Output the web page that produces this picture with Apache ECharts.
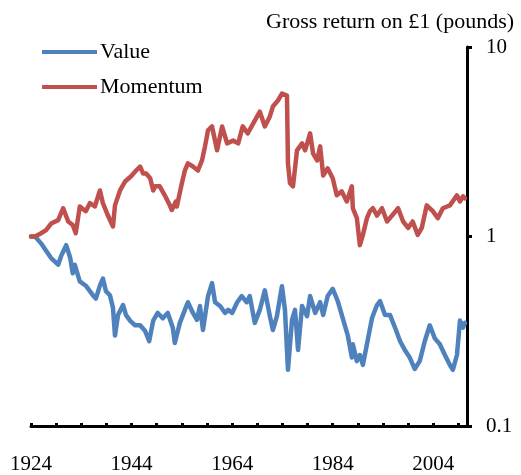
<!DOCTYPE html>
<html>
<head>
<meta charset="utf-8">
<script src="https://cdn.jsdelivr.net/npm/echarts@6/dist/echarts.min.js"></script>
<style>
html,body{margin:0;padding:0;background:#fff;}
#chart{width:521px;height:475px;}
</style>
</head>
<body>
<div id="chart"></div>
<script>
// ---- data ----
const valueYears = [1924,1924.8,1926.0,1927.0,1928.0,1929.4,1930.0,1931.0,1931.8,1932.3,1932.7,1933.7,1934.9,1936.3,1936.9,1937.7,1938.3,1938.9,1939.7,1940.3,1940.7,1941.3,1942.3,1942.9,1943.7,1944.7,1945.7,1946.7,1947.5,1948.3,1949.2,1950.2,1951.2,1952.2,1952.6,1953.2,1953.6,1954.6,1955.2,1956.2,1957.0,1957.6,1958.2,1959.2,1960.0,1960.6,1961.6,1962.6,1963.2,1964.0,1965.0,1965.9,1966.9,1967.5,1968.5,1969.5,1970.5,1971.5,1972.1,1972.9,1973.9,1974.5,1975.1,1975.9,1976.5,1977.1,1977.9,1978.9,1979.5,1980.5,1981.5,1982.1,1983.0,1984.0,1985.0,1986.0,1987.0,1987.8,1988.0,1988.8,1989.4,1990.0,1990.8,1991.8,1992.8,1993.4,1994.4,1995.4,1996.4,1997.4,1998.4,1999.3,2000.3,2001.3,2002.3,2003.3,2004.3,2005.3,2006.3,2007.3,2007.9,2008.7,2009.3,2009.9,2010.3];
const valueReturns = [1.00,1.00,0.92,0.84,0.77,0.71,0.79,0.90,0.77,0.64,0.71,0.58,0.55,0.49,0.47,0.55,0.60,0.515,0.49,0.42,0.30,0.385,0.435,0.385,0.36,0.34,0.34,0.317,0.28,0.36,0.395,0.37,0.395,0.33,0.274,0.317,0.35,0.41,0.45,0.395,0.363,0.43,0.321,0.485,0.568,0.45,0.43,0.395,0.41,0.395,0.45,0.485,0.45,0.485,0.35,0.41,0.52,0.38,0.321,0.38,0.547,0.41,0.198,0.363,0.41,0.252,0.43,0.38,0.485,0.395,0.45,0.385,0.485,0.53,0.456,0.37,0.30,0.23,0.27,0.22,0.237,0.21,0.27,0.37,0.435,0.456,0.385,0.385,0.33,0.28,0.25,0.23,0.20,0.22,0.28,0.34,0.29,0.27,0.237,0.21,0.198,0.237,0.36,0.33,0.35];

const momentumYears = [1924,1924.8,1926.0,1927.0,1928.0,1929.4,1930.4,1931.4,1932.3,1932.9,1933.7,1934.9,1935.7,1936.7,1937.7,1938.3,1939.3,1940.3,1940.7,1941.7,1942.7,1943.9,1944.9,1945.7,1946.3,1946.9,1947.7,1948.3,1948.7,1949.6,1950.6,1951.6,1952.0,1952.8,1953.0,1954.0,1954.6,1955.2,1956.2,1957.2,1958.0,1958.6,1959.2,1960.0,1961.0,1962.0,1963.0,1964.2,1965.2,1966.1,1967.1,1968.5,1969.5,1970.5,1971.5,1972.1,1973.1,1973.9,1974.9,1975.1,1975.5,1976.1,1976.9,1977.9,1978.5,1979.5,1980.1,1980.9,1981.5,1982.1,1983.0,1984.0,1984.8,1985.8,1986.8,1987.8,1988.0,1988.8,1989.4,1990.0,1990.8,1991.4,1992.0,1992.8,1993.8,1994.8,1995.8,1997.0,1998.0,1999.0,1999.9,2000.9,2001.7,2002.7,2003.9,2004.9,2005.9,2007.3,2008.7,2009.3,2009.9,2010.3];
const momentumReturns = [1.00,1.00,1.04,1.08,1.17,1.22,1.41,1.20,1.15,1.04,1.44,1.36,1.50,1.44,1.75,1.50,1.29,1.13,1.46,1.75,1.95,2.08,2.23,2.34,2.15,2.15,2.03,1.75,1.84,1.84,1.65,1.46,1.38,1.53,1.44,1.91,2.23,2.43,2.34,2.23,2.52,2.99,3.63,3.81,2.85,3.81,3.10,3.21,3.10,3.81,3.50,4.09,4.56,3.81,4.30,4.85,5.22,5.68,5.54,2.43,1.91,1.84,2.85,3.10,2.85,3.50,2.74,2.52,2.99,2.10,2.29,2.03,1.65,1.73,1.53,1.84,1.41,1.25,0.90,1.02,1.25,1.36,1.41,1.29,1.41,1.20,1.29,1.41,1.20,1.11,1.20,1.02,1.11,1.46,1.36,1.25,1.41,1.46,1.65,1.53,1.63,1.59];

const seriesNames = ['Value', 'Momentum'];
const xLabelYears = [1924, 1944, 1964, 1984, 2004];
const yTickValues = [0.1, 1, 10];
const yAxisTitle = 'Gross return on £1 (pounds)';

// ---- chart ----
const zip = (xs, ys) => xs.map((x, i) => [x, ys[i]]);
const FONT = '"Liberation Serif", "Times New Roman", serif';

const chart = echarts.init(document.getElementById('chart'), null, {renderer: 'canvas'});
chart.setOption({
  animation: false,
  backgroundColor: '#ffffff',
  title: {
    text: yAxisTitle,
    left: 261, top: 6,
    textStyle: {fontFamily: FONT, fontSize: 22, fontWeight: 'normal', color: '#000'}
  },
  legend: {
    data: seriesNames,
    orient: 'vertical',
    left: 42, top: 41,
    padding: 0,
    icon: 'rect',
    itemWidth: 55, itemHeight: 4,
    itemGap: 13,
    textStyle: {fontFamily: FONT, fontSize: 22, lineHeight: 22, color: '#000', padding: [0, 0, 0, -2]}
  },
  grid: {left: 31, right: 54, top: 47, bottom: 48, containLabel: false},
  xAxis: {
    type: 'value',
    min: 1924, max: 2010.7,
    interval: 5,
    axisLine: {show: true, lineStyle: {color: '#000', width: 3}},
    axisTick: {show: true, inside: true, length: 3, lineStyle: {color: '#000', width: 3}},
    splitLine: {show: false},
    axisLabel: {
      margin: 28,
      fontFamily: FONT, fontSize: 21, color: '#000',
      showMaxLabel: false,
      formatter: v => (xLabelYears.indexOf(Math.round(v * 10) / 10) >= 0 ? String(v) : '')
    }
  },
  yAxis: {
    type: 'log', logBase: 10,
    min: yTickValues[0], max: yTickValues[yTickValues.length - 1],
    position: 'right',
    axisLine: {show: true, lineStyle: {color: '#000', width: 3}},
    axisTick: {show: true, inside: false, length: 5, lineStyle: {color: '#000', width: 3}},
    splitLine: {show: false},
    axisLabel: {
      margin: 19,
      fontFamily: FONT, fontSize: 21, color: '#000',
      formatter: v => (v < 0.5 ? '0.1' : String(Math.round(v)))
    }
  },
  series: [
    {
      name: seriesNames[0], type: 'line', showSymbol: false, symbol: 'none',
      data: zip(valueYears, valueReturns),
      lineStyle: {color: '#4F81BD', width: 4.5, join: 'round', cap: 'round'},
      itemStyle: {color: '#4F81BD'}
    },
    {
      name: seriesNames[1], type: 'line', showSymbol: false, symbol: 'none',
      data: zip(momentumYears, momentumReturns),
      lineStyle: {color: '#C0504D', width: 4.5, join: 'round', cap: 'round'},
      itemStyle: {color: '#C0504D'}
    }
  ]
});
</script>
</body>
</html>
